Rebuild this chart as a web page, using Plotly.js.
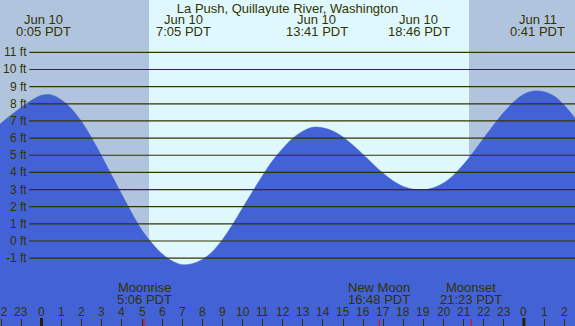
<!DOCTYPE html>
<html><head><meta charset="utf-8">
<script src="https://cdn.plot.ly/plotly-3.0.1.min.js"></script>
<style>html,body{margin:0;padding:0;background:#fff;}#chart{width:575px;height:326px;}</style>
</head><body><div id="chart"></div>
<script>
const stationTitle = 'La Push, Quillayute River, Washington';
// hours since Jun 10 00:00 PDT, and tide height in feet (every half hour)
const tideHours = [-2.5, -2.0, -1.5, -1.0, -0.5, 0.0, 0.5, 1.0, 1.5, 2.0, 2.5, 3.0, 3.5, 4.0, 4.5, 5.0, 5.5, 6.0, 6.5, 7.0, 7.5, 8.0, 8.5, 9.0, 9.5, 10.0, 10.5, 11.0, 11.5, 12.0, 12.5, 13.0, 13.5, 14.0, 14.5, 15.0, 15.5, 16.0, 16.5, 17.0, 17.5, 18.0, 18.5, 19.0, 19.5, 20.0, 20.5, 21.0, 21.5, 22.0, 22.5, 23.0, 23.5, 24.0, 24.5, 25.0, 25.5, 26.0, 26.5, 27.0];
const tideFeet  = [6.35, 6.88, 7.36, 7.8, 8.2, 8.5, 8.52, 8.22, 7.7, 6.95, 6.0, 4.93, 3.82, 2.71, 1.62, 0.62, -0.13, -0.75, -1.16, -1.38, -1.32, -1.08, -0.62, 0.08, 0.95, 1.92, 2.88, 3.82, 4.69, 5.4, 5.99, 6.4, 6.63, 6.6, 6.41, 6.06, 5.58, 5.04, 4.48, 3.95, 3.5, 3.18, 3.02, 2.98, 3.1, 3.38, 3.84, 4.47, 5.2, 6.0, 6.78, 7.5, 8.12, 8.56, 8.74, 8.7, 8.45, 7.93, 7.23, 6.45];
const extremeHours = [0.083, 7.083, 13.683, 18.767, 24.683];
const extremeDates = ['Jun 10', 'Jun 10', 'Jun 10', 'Jun 10', 'Jun 11'];
const extremeTimes = ['0:05 PDT', '7:05 PDT', '13:41 PDT', '18:46 PDT', '0:41 PDT'];
const feetLevels = [-1, 0, 1, 2, 3, 4, 5, 6, 7, 8, 9, 10, 11];
const hourTicks = [-2, -1, 0, 1, 2, 3, 4, 5, 6, 7, 8, 9, 10, 11, 12, 13, 14, 15, 16, 17, 18, 19, 20, 21, 22, 23, 24, 25, 26];
const hourLabels = ['22', '23', '0', '1', '2', '3', '4', '5', '6', '7', '8', '9', '10', '11', '12', '13', '14', '15', '16', '17', '18', '19', '20', '21', '22', '23', '0', '1', '2'];
const midnightHours = [0, 24];
const sunriseHour = 5.348;
const sunsetHour = 21.269;
const moonEventHours = [5.1, 16.8, 21.383];
const moonEventNames = ['Moonrise', 'New Moon', 'Moonset'];
const moonEventTimes = ['5:06 PDT', '16:48 PDT', '21:23 PDT'];

const X0 = -2.0647, X1 = 26.542;
const Y0 = -4.956, Y1 = 14.052;
const TXT = '#333300';
const FONT = 'Liberation Sans, Arial, sans-serif';
const BLUE = '#4262d6';
const NIGHT = '#b0c4de';
const DAY = '#dff8fe';

const hStart = tideHours[0], hEnd = tideHours[tideHours.length - 1];
const traces = [];
traces.push({x: [hStart, hEnd], y: [-6, -6], mode: 'lines', line: {width: 0}, hoverinfo: 'skip', showlegend: false});
traces.push({x: tideHours, y: tideFeet, mode: 'lines', fill: 'tonexty', fillcolor: BLUE,
  line: {color: BLUE, width: 0.5, shape: 'spline', smoothing: 1}, hoverinfo: 'skip', showlegend: false});
const lx = [], ly = [];
const lineStart = -0.607;
feetLevels.forEach(v => { lx.push(lineStart, 30, null); ly.push(v, v, null); });
traces.push({x: lx, y: ly, mode: 'lines', line: {color: TXT, width: 1.2}, hoverinfo: 'skip', showlegend: false});

const shapes = [
  {type: 'rect', layer: 'below', xref: 'x', yref: 'paper', x0: -5, x1: sunriseHour, y0: 0, y1: 1, fillcolor: NIGHT, line: {width: 0}},
  {type: 'rect', layer: 'below', xref: 'x', yref: 'paper', x0: sunsetHour, x1: 30, y0: 0, y1: 1, fillcolor: NIGHT, line: {width: 0}}
];
midnightHours.forEach(h => shapes.push({type: 'line', layer: 'above', xref: 'x', yref: 'paper', x0: h, x1: h, y0: 0, y1: 8/326, line: {color: '#222200', width: 3}}));
moonEventHours.forEach(h => shapes.push({type: 'line', layer: 'above', xref: 'x', yref: 'paper', x0: h, x1: h, y0: 0, y1: 7/326, line: {color: '#ff0000', width: 1}}));

const ann = [];
feetLevels.forEach(v => ann.push({x: lineStart, y: v, xref: 'x', yref: 'y', xanchor: 'right', yanchor: 'middle', xshift: -1, borderpad: 0,
  text: v + ' ft', showarrow: false, font: {family: FONT, size: 12, color: TXT}}));
hourTicks.forEach((h, i) => ann.push({x: h, y: 1 - 312/326, xref: 'x', yref: 'paper', xanchor: 'center', yanchor: 'middle', borderpad: 0,
  text: hourLabels[i], showarrow: false, font: {family: FONT, size: 12, color: TXT}}));
extremeHours.forEach((h, i) => {
  ann.push({x: h, y: 1 - 19.5/326, xref: 'x', yref: 'paper', xanchor: 'center', yanchor: 'middle', borderpad: 0, text: extremeDates[i], showarrow: false, font: {family: FONT, size: 13, color: TXT}});
  ann.push({x: h, y: 1 - 31.5/326, xref: 'x', yref: 'paper', xanchor: 'center', yanchor: 'middle', borderpad: 0, text: extremeTimes[i], showarrow: false, font: {family: FONT, size: 13, color: TXT}});
});
moonEventHours.forEach((h, i) => {
  ann.push({x: h, y: 1 - 287.5/326, xref: 'x', yref: 'paper', xanchor: 'center', yanchor: 'middle', borderpad: 0, text: moonEventNames[i], showarrow: false, font: {family: FONT, size: 13, color: TXT}});
  ann.push({x: h, y: 1 - 299.5/326, xref: 'x', yref: 'paper', xanchor: 'center', yanchor: 'middle', borderpad: 0, text: moonEventTimes[i], showarrow: false, font: {family: FONT, size: 13, color: TXT}});
});

const layout = {
  width: 575, height: 326,
  margin: {l: 0, r: 0, t: 0, b: 0, pad: 0},
  paper_bgcolor: DAY, plot_bgcolor: DAY,
  title: {text: stationTitle, font: {family: FONT, size: 13, color: TXT}, x: 0.5, xanchor: 'center', xref: 'paper', y: 1 - 8.5/326, yanchor: 'middle', yref: 'container'},
  showlegend: false,
  xaxis: {range: [X0, X1], showgrid: false, zeroline: false, showline: false,
    tickmode: 'array', tickvals: hourTicks, ticktext: hourLabels, showticklabels: false,
    ticks: 'inside', ticklen: 7, tickwidth: 1, tickcolor: TXT, layer: 'above traces'},
  yaxis: {range: [Y0, Y1], showgrid: false, zeroline: false, showline: false, showticklabels: false, ticks: ''},
  shapes: shapes,
  annotations: ann
};
Plotly.newPlot('chart', traces, layout, {staticPlot: true, displayModeBar: false});
</script>
</body></html>
